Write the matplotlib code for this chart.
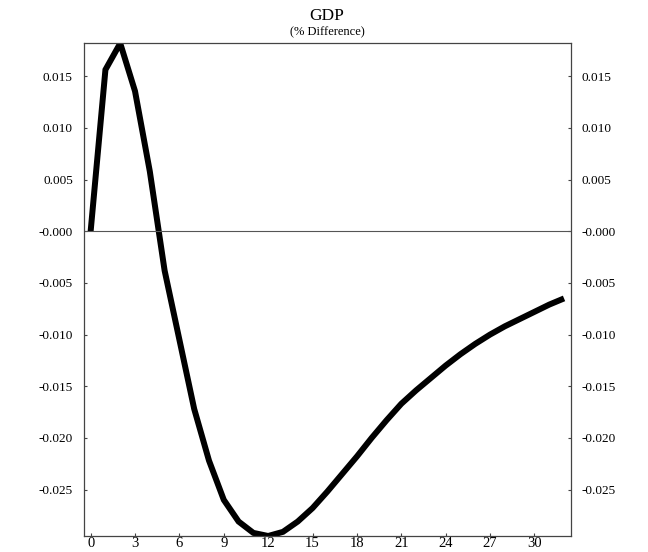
import numpy as np
import matplotlib
matplotlib.use("Agg")
import matplotlib.pyplot as plt

# GDP response, % difference from baseline
periods = list(range(33))
gdp = [0.0, 0.01564, 0.0182, 0.01356, 0.0058, -0.0038, -0.0105, -0.0172,
       -0.0222, -0.0260, -0.0281, -0.0292, -0.0295, -0.0291, -0.0281,
       -0.0268, -0.0252, -0.0235, -0.0218, -0.0200, -0.0183, -0.0167,
       -0.0154, -0.0142, -0.0130, -0.0119, -0.0109, -0.0100, -0.0092,
       -0.0085, -0.0078, -0.0071, -0.0065]

xticks = list(range(0, 31, 3))
yticks = [-0.025, -0.020, -0.015, -0.010, -0.005, 0.0, 0.005, 0.010, 0.015]
ylabels = ["-0.025", "-0.020", "-0.015", "-0.010", "-0.005", "-0.000",
           "0.005", "0.010", "0.015"]

plt.rcParams['font.family'] = ['Liberation Serif', 'DejaVu Serif']

fig = plt.figure(figsize=(6.48, 5.52), dpi=100)
ax = fig.add_axes([0.1296, 0.029, 0.7511, 0.8926])

ax.plot(periods, gdp, color='black', lw=4.3, solid_joinstyle='miter',
        solid_capstyle='butt')
ax.axhline(0, color='#555555', lw=0.8)

ax.set_xlim(-0.45, 32.45)
ax.set_ylim(min(gdp), max(gdp))

ax.set_xticks(xticks)
ax.set_xticklabels([str(t) for t in xticks], fontsize=10.5)
ax.set_yticks(yticks)
ax.set_yticklabels(ylabels, fontsize=9.5)

ax.tick_params(axis='y', direction='in', length=2.5, width=0.8,
               color='#444444', left=True, right=True,
               labelleft=True, labelright=True, pad=8)
ax.tick_params(axis='x', direction='in', length=2.5, width=0.8,
               color='#444444', pad=1)

for s in ax.spines.values():
    s.set_color('#444444')
    s.set_linewidth(0.9)

fig.text(0.5046, 0.9638, "GDP", ha='center', va='baseline', fontsize=12.5)
fig.text(0.5046, 0.9366, "(% Difference)", ha='center', va='baseline',
         fontsize=9)

fig.savefig("out.png", dpi=100)
